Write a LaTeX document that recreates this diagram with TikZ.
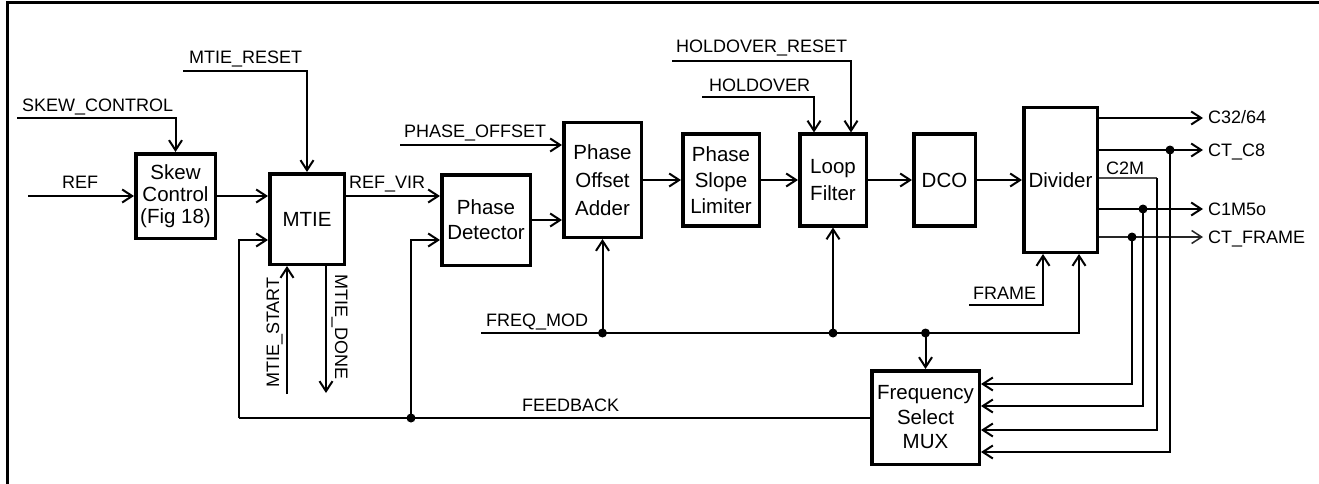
\documentclass[tikz,border=0pt]{standalone}
\usepackage{fontspec}
\setmainfont{Liberation Sans}
\usetikzlibrary{arrows.meta}

\begin{document}
\begin{tikzpicture}[x=1pt,y=-1pt,
  blk/.style={draw,line width=3.5pt,align=center,inner sep=0pt,
    font=\fontsize{20.5}{26}\selectfont},
  sig/.style={line width=2pt,-{Straight Barb[length=10pt,width=13pt]}},
  wire/.style={line width=2pt},
  fine/.style={line width=1.1pt,draw=black!70},
  lbl/.style={anchor=base west,inner sep=0pt,font=\fontsize{18}{20}\selectfont}]
\useasboundingbox (0,0) rectangle (1319,484);
\draw[line width=3pt] (1319,3) -- (7,3) -- (7,484);

% blocks
\node[blk,minimum width=79.5pt,minimum height=84.5pt,font=\fontsize{20.5}{22}\selectfont] (skew) at (175.5,196) {Skew\\Control\\(Fig 18)};
\node[blk,minimum width=74.5pt,minimum height=90.5pt] (mtie) at (307,219) {MTIE};
\node[blk,minimum width=88.5pt,minimum height=90.5pt,font=\fontsize{20.5}{25}\selectfont] (pd) at (486,220) {Phase\\Detector};
\node[blk,minimum width=77.5pt,minimum height=114.5pt,font=\fontsize{20.5}{28}\selectfont] (poa) at (602.5,180) {Phase\\Offset\\Adder};
\node[blk,minimum width=76.5pt,minimum height=91.5pt] (psl) at (721,180) {Phase\\Slope\\Limiter};
\node[blk,minimum width=66.5pt,minimum height=91.5pt,font=\fontsize{20.5}{27}\selectfont] (lf) at (833,180) {Loop\\Filter};
\node[blk,minimum width=61.5pt,minimum height=91.5pt] (dco) at (944.5,180) {DCO};
\node[blk,minimum width=73.5pt,minimum height=144.5pt] (div) at (1060.5,180) {Divider};
\node[blk,minimum width=107.5pt,minimum height=93.5pt,font=\fontsize{20.5}{24.5}\selectfont] (mux) at (925.5,417.5) {Frequency\\Select\\MUX};

% rows and free ends
\coordinate (row1) at (0,196);
\coordinate (row2) at (0,240);
\coordinate (row3) at (0,220);
\coordinate (refin) at (28,196);
\coordinate (skin) at (17,118);
\coordinate (mrin) at (183,71);
\coordinate (fbl) at (239,418);
\coordinate (fbd) at (411,418);
\coordinate (mstart) at (287,394);
\coordinate (mdone) at (326,393);
\coordinate (poin) at (400,145);
\coordinate (hoin) at (702,97);
\coordinate (hrin) at (672,61);
\coordinate (fmin) at (481,333);
\coordinate (fmr) at (1079,333);
\coordinate (frin) at (969,305);

% front end
\draw[sig] (refin) -- (refin -| skew.west);
\draw[sig] (skin) -| (skew.north);
\draw[sig] (row1 -| skew.east) -- (row1 -| mtie.west);
\draw[sig] (mrin) -| (mtie.north);
\draw[sig] (row1 -| mtie.east) -- (row1 -| pd.west);
\draw[sig] (mstart) -- (mstart |- mtie.south);
\draw[sig] (mdone |- mtie.south) -- (mdone);
\draw[wire] (mux.west |- fbl) -- (fbl);
\draw[sig] (fbl) |- (row2 -| mtie.west);
\draw[sig] (fbd) |- (row2 -| pd.west);
\fill (fbd) circle (4.5);

% phase path
\draw[sig] (poin) -- (poin -| poa.west);
\draw[sig] (row3 -| pd.east) -- (row3 -| poa.west);
\draw[sig] (poa.east) -- (psl.west);
\draw[sig] (psl.east) -- (lf.west);
\draw[sig] (lf.east) -- (dco.west);
\draw[sig] (dco.east) -- (div.west);
\draw[sig] (hoin) -| ([xshift=-19pt]lf.north);
\draw[sig] (hrin) -| ([xshift=18pt]lf.north);

% frequency modulation bus
\draw[sig] (fmin) -- (fmr) -- (fmr |- div.south);
\foreach \blkname in {poa,lf,mux}{
  \fill (fmin -| \blkname.north) circle (4.5);
}
\draw[sig] (fmin -| poa.south) -- (poa.south);
\draw[sig] (fmin -| lf.south) -- (lf.south);
\draw[sig] (fmin -| mux.north) -- (mux.north);
\draw[sig] (frin) -| ([xshift=-17.5pt]div.south);

% outputs
\foreach \yo/\nm in {118/o1,150/o2,209/o3}{
  \coordinate (\nm) at (1203,\yo);
  \draw[sig] (\nm -| div.east) -- (\nm);
}
\coordinate (o4) at (1203,237);
\draw[sig,line width=1.5pt,draw=black!85] (o4 -| div.east) -- (o4);
\coordinate (c2m) at (1157,178);
\draw[fine] (c2m -| div.east) -- (c2m);

% taps back to the mux
\foreach \xv/\yo/\yi/\i in {1132/237/384/1,1143/209/406/2,1157/178/430/3,1170/150/452/4}{
  \coordinate (tap\i) at (\xv,\yo);
  \coordinate (mi\i) at (0,\yi);
  \draw[sig] (tap\i) |- (mi\i -| mux.east);
}
\fill (tap1) circle (4.5);
\fill (tap2) circle (4.5);
\fill (tap4) circle (4.5);

% labels
\node[lbl] at (22,112) {SKEW\_CONTROL};
\node[lbl] at (189,64) {MTIE\_RESET};
\node[lbl] at (62,188) {REF};
\node[lbl] at (349,188) {REF\_VIR};
\node[lbl,rotate=90] at (279,388) {MTIE\_START};
\node[lbl,rotate=-90] at (335,274) {MTIE\_DONE};
\node[lbl] at (404,137) {PHASE\_OFFSET};
\node[lbl] at (676,53) {HOLDOVER\_RESET};
\node[lbl] at (709,92) {HOLDOVER};
\node[lbl] at (486,326) {FREQ\_MOD};
\node[lbl] at (522,411) {FEEDBACK};
\node[lbl] at (973,299) {FRAME};
\node[lbl] at (1106,174) {C2M};
\node[lbl] at (1208,124) {C32/64};
\node[lbl] at (1208,156) {CT\_C8};
\node[lbl] at (1208,215) {C1M5o};
\node[lbl] at (1208,243) {CT\_FRAME};
\end{tikzpicture}
\end{document}
